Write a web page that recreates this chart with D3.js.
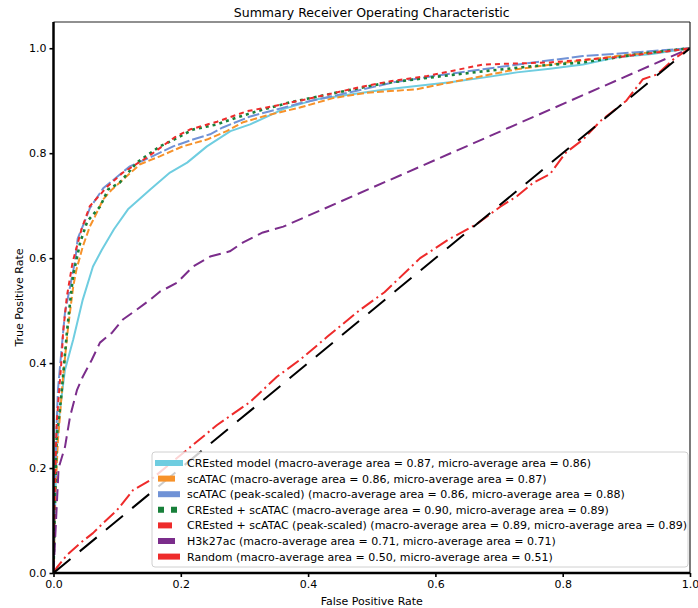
<!DOCTYPE html>
<html>
<head>
<meta charset="utf-8">
<script src="https://cdn.jsdelivr.net/npm/d3@7"></script>
<style>
  html, body { margin: 0; padding: 0; background: #fff; }
  svg { display: block; font-family: "DejaVu Sans", sans-serif; }
</style>
</head>
<body>
<svg id="chart" width="698" height="608"></svg>
<script>
// ROC curves as [false positive rate, true positive rate] pairs
const crestedModel = [[0,0],[0.002,0.10],[0.005,0.235],[0.010,0.31],[0.018,0.387],[0.031,0.445],[0.046,0.521],
  [0.062,0.584],[0.076,0.616],[0.095,0.655],[0.117,0.693],[0.152,0.731],[0.183,0.763],[0.210,0.782],[0.241,0.813],
  [0.278,0.842],[0.309,0.855],[0.361,0.884],[0.414,0.903],[0.466,0.912],[0.518,0.921],[0.570,0.928],[0.623,0.935],
  [0.675,0.944],[0.728,0.954],[0.780,0.961],[0.832,0.969],[0.885,0.983],[0.940,0.989],[1,1]];
const scATAC = [[0,0],[0.003,0.15],[0.007,0.254],[0.010,0.297],[0.015,0.374],[0.023,0.469],[0.031,0.546],
  [0.036,0.578],[0.046,0.622],[0.057,0.660],[0.065,0.679],[0.078,0.712],[0.092,0.731],[0.115,0.756],[0.136,0.779],
  [0.167,0.794],[0.203,0.813],[0.241,0.826],[0.272,0.842],[0.298,0.859],[0.335,0.872],[0.387,0.887],[0.439,0.905],
  [0.492,0.915],[0.571,0.922],[0.649,0.941],[0.728,0.960],[0.806,0.973],[0.885,0.985],[0.937,0.992],[1,1]];
const scATACPeak = [[0,0],[0.002,0.15],[0.005,0.286],[0.007,0.349],[0.013,0.431],[0.018,0.496],[0.034,0.595],
  [0.038,0.637],[0.049,0.670],[0.057,0.695],[0.078,0.733],[0.101,0.756],[0.120,0.775],[0.152,0.792],[0.188,0.813],
  [0.219,0.826],[0.246,0.836],[0.266,0.849],[0.309,0.870],[0.340,0.880],[0.387,0.895],[0.466,0.916],[0.534,0.935],
  [0.597,0.947],[0.675,0.960],[0.754,0.973],[0.832,0.985],[0.911,0.992],[1,1]];
const crestedScATAC = [[0,0],[0.002,0.12],[0.005,0.260],[0.010,0.311],[0.015,0.374],[0.021,0.458],[0.026,0.515],
  [0.031,0.569],[0.042,0.630],[0.053,0.670],[0.073,0.698],[0.086,0.731],[0.104,0.744],[0.131,0.782],[0.167,0.813],
  [0.183,0.822],[0.219,0.845],[0.257,0.855],[0.288,0.868],[0.320,0.880],[0.372,0.897],[0.439,0.914],[0.518,0.933],
  [0.597,0.945],[0.675,0.956],[0.754,0.966],[0.832,0.973],[0.926,0.990],[1,1]];
const crestedScATACPeak = [[0,0],[0.002,0.15],[0.005,0.286],[0.013,0.412],[0.015,0.458],[0.021,0.527],[0.030,0.592],
  [0.044,0.655],[0.057,0.699],[0.085,0.737],[0.109,0.763],[0.147,0.792],[0.190,0.830],[0.214,0.845],[0.257,0.860],
  [0.304,0.880],[0.351,0.891],[0.398,0.903],[0.482,0.926],[0.529,0.937],[0.587,0.947],[0.675,0.969],[0.780,0.973],
  [0.885,0.983],[0.964,0.994],[1,1]];
const h3k27ac = [[0,0],[0.004,0.10],[0.008,0.20],[0.018,0.24],[0.026,0.298],[0.037,0.349],[0.046,0.374],[0.060,0.406],
  [0.073,0.439],[0.092,0.458],[0.109,0.483],[0.131,0.502],[0.152,0.521],[0.167,0.536],[0.194,0.553],[0.219,0.584],
  [0.246,0.603],[0.277,0.613],[0.298,0.630],[0.329,0.649],[0.361,0.660],[1,1]];
const randomModel = [[0,0],[0.005,0.01],[0.021,0.034],[0.042,0.057],[0.062,0.076],[0.078,0.095],[0.100,0.120],
  [0.125,0.158],[0.152,0.177],[0.180,0.205],[0.210,0.235],[0.257,0.282],[0.309,0.326],[0.351,0.374],[0.387,0.406],
  [0.430,0.450],[0.480,0.500],[0.520,0.535],[0.576,0.600],[0.620,0.635],[0.665,0.665],[0.702,0.698],[0.728,0.718],
  [0.754,0.744],[0.780,0.760],[0.804,0.800],[0.832,0.826],[0.859,0.861],[0.900,0.900],[0.926,0.941],[0.948,0.950],
  [0.975,0.980],[1,1]];
const chanceLine = [[0,0],[1,1]];

const seriesNames = [
  "CREsted model (macro-average area = 0.87, micro-average area = 0.86)",
  "scATAC (macro-average area = 0.86, micro-average area = 0.87)",
  "scATAC (peak-scaled) (macro-average area = 0.86, micro-average area = 0.88)",
  "CREsted + scATAC (macro-average area = 0.90, micro-average area = 0.89)",
  "CREsted + scATAC (peak-scaled) (macro-average area = 0.89, micro-average area = 0.89)",
  "H3k27ac (macro-average area = 0.71, micro-average area = 0.71)",
  "Random (macro-average area = 0.50, micro-average area = 0.51)"
];
const xTicks = [0, 0.2, 0.4, 0.6, 0.8, 1.0];
const yTicks = [0, 0.2, 0.4, 0.6, 0.8, 1.0];

// line styles: colour, width, dash pattern in plot and in legend
const styles = [
  { color: "#6fcde0", width: 2,   dash: null,         legendDash: null },
  { color: "#f7922a", width: 2,   dash: "7,3",        legendDash: "17,8" },
  { color: "#7092d6", width: 2,   dash: "12,3",       legendDash: "36,9" },
  { color: "#18803a", width: 2.6, dash: "3,4",        legendDash: "6,7" },
  { color: "#ee2b2b", width: 2,   dash: "5,4",        legendDash: "14,10" },
  { color: "#7b2d8b", width: 2,   dash: "12,6",       legendDash: "17,8" },
  { color: "#ee2b2b", width: 2,   dash: "14,4,2,4",   legendDash: "24,6,3,6" }
];
const seriesData = [crestedModel, scATAC, scATACPeak, crestedScATAC, crestedScATACPeak, h3k27ac, randomModel];

const svg = d3.select("#chart");
const plotLeft = 53.5, plotRight = 690, plotTop = 22, plotBottom = 573;

const x = d3.scaleLinear().domain([0, 1]).range([plotLeft, plotRight]);
const y = d3.scaleLinear().domain([0, 1.05]).range([plotBottom, plotTop]);

const clipId = "plot-clip";
svg.append("clipPath").attr("id", clipId)
  .append("rect").attr("x", plotLeft).attr("y", plotTop)
  .attr("width", plotRight - plotLeft).attr("height", plotBottom - plotTop);

const line = d3.line().x(d => x(d[0])).y(d => y(d[1]));
const plot = svg.append("g").attr("clip-path", `url(#${clipId})`);

seriesData.forEach((data, i) => {
  const s = styles[i];
  plot.append("path")
    .datum(data)
    .attr("d", line)
    .attr("fill", "none")
    .attr("stroke", s.color)
    .attr("stroke-width", s.width)
    .attr("stroke-dasharray", s.dash)
    .attr("stroke-linejoin", "round");
});

// chance diagonal
plot.append("path")
  .datum(chanceLine)
  .attr("d", line)
  .attr("fill", "none")
  .attr("stroke", "#000")
  .attr("stroke-width", 2)
  .attr("stroke-dasharray", "22,12");

// axes frame
svg.append("line").attr("x1", plotLeft).attr("x2", plotRight).attr("y1", plotTop).attr("y2", plotTop)
  .attr("stroke", "#222").attr("stroke-width", 1.2);
svg.append("line").attr("x1", plotRight).attr("x2", plotRight).attr("y1", plotTop).attr("y2", plotBottom)
  .attr("stroke", "#222").attr("stroke-width", 1.2);

const xAxis = svg.append("g").attr("transform", `translate(0,${plotBottom})`)
  .call(d3.axisBottom(x).tickValues(xTicks).tickFormat(d3.format(".1f")).tickSize(4).tickPadding(3));
const yAxis = svg.append("g").attr("transform", `translate(${plotLeft},0)`)
  .call(d3.axisLeft(y).tickValues(yTicks).tickFormat(d3.format(".1f")).tickSize(4).tickPadding(3));

[xAxis, yAxis].forEach(g => {
  g.select(".domain").attr("stroke", "#000").attr("stroke-width", 2.5);
  g.selectAll(".tick line").attr("stroke", "#000").attr("stroke-width", 1.6);
  g.selectAll(".tick text").attr("fill", "#000").attr("font-size", 11)
    .attr("font-family", "DejaVu Sans, sans-serif");
});
// keep the axis lines within the plot extent
xAxis.select(".domain").attr("d", `M${plotLeft},0H${plotRight}`);
yAxis.select(".domain").attr("d", `M0,${plotTop}V${plotBottom}`);

// titles
svg.append("text").attr("x", (plotLeft + plotRight) / 2).attr("y", 17)
  .attr("text-anchor", "middle").attr("font-size", 12.5).attr("fill", "#000")
  .text("Summary Receiver Operating Characteristic");
svg.append("text").attr("x", (plotLeft + plotRight) / 2).attr("y", 605)
  .attr("text-anchor", "middle").attr("font-size", 11).attr("fill", "#000")
  .text("False Positive Rate");
svg.append("text")
  .attr("transform", `translate(23,${(plotTop + plotBottom) / 2}) rotate(-90)`)
  .attr("text-anchor", "middle").attr("font-size", 11).attr("fill", "#000")
  .text("True Positive Rate");

// legend
const legend = svg.append("g");
const lx = 152, ly = 452, lw = 536, lh = 115, rowH = 15.6;
legend.append("rect").attr("x", lx).attr("y", ly).attr("width", lw).attr("height", lh)
  .attr("rx", 3).attr("fill", "rgba(255,255,255,0.8)").attr("stroke", "#d0d0d0").attr("stroke-width", 1);

seriesNames.forEach((name, i) => {
  const s = styles[i];
  const cy = ly + 11 + i * rowH;
  legend.append("line")
    .attr("x1", 158).attr("x2", 180).attr("y1", cy).attr("y2", cy)
    .attr("stroke", s.color).attr("stroke-width", 6)
    .attr("stroke-linecap", s.legendDash ? "butt" : "square")
    .attr("stroke-dasharray", s.legendDash);
  legend.append("text").attr("x", 187).attr("y", cy + 4)
    .attr("font-size", 11).attr("fill", "#000").text(name);
});
</script>
</body>
</html>
